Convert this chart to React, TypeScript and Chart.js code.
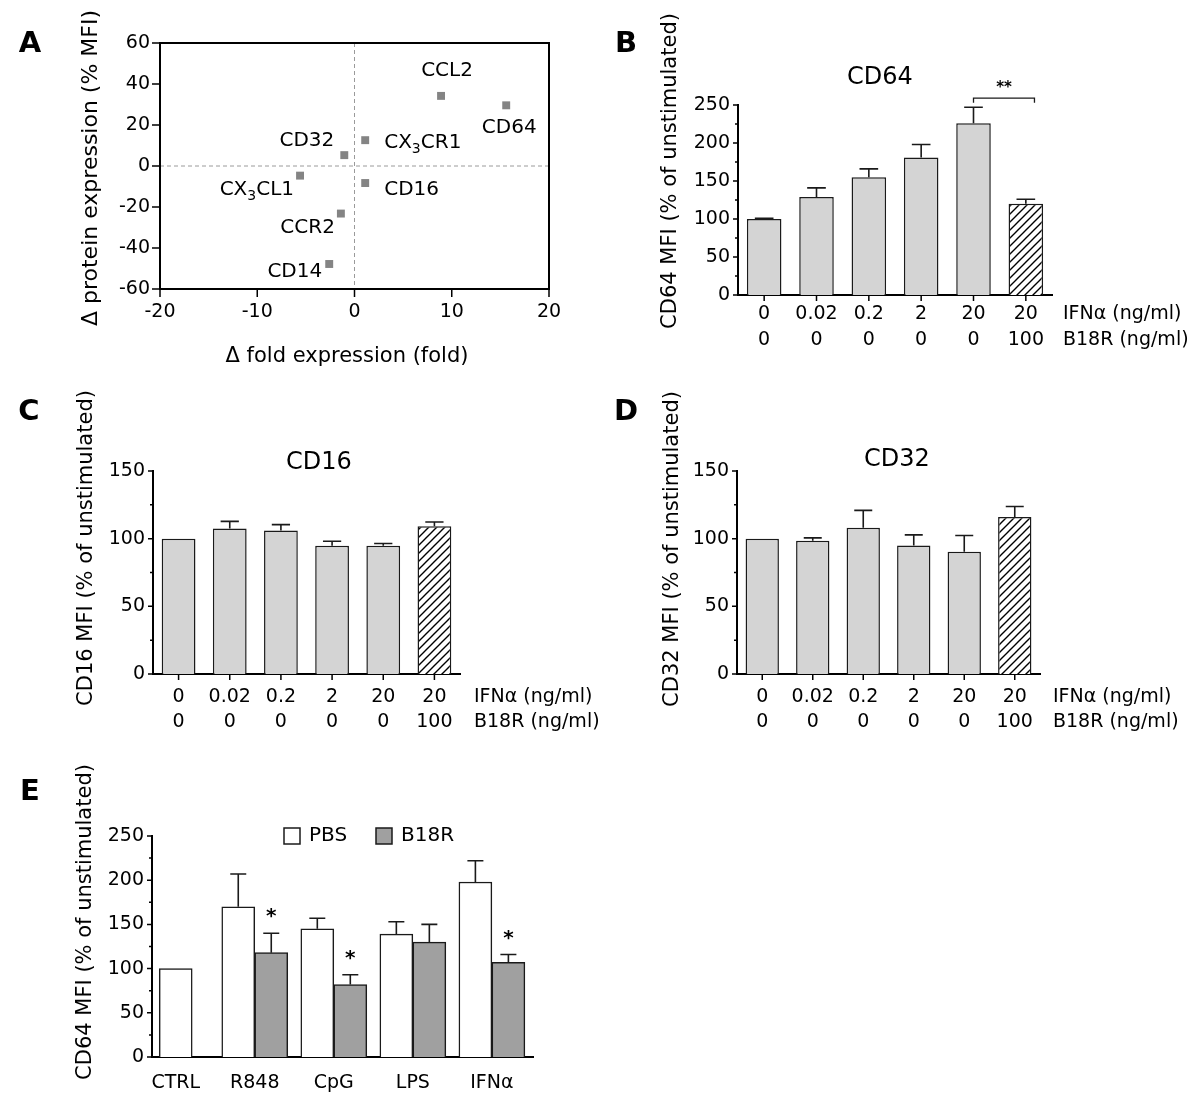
import React, { useEffect, useRef } from 'react';
import { Chart, registerables } from 'chart.js';

Chart.register(...registerables);

const FONT = "'DejaVu Sans', 'Liberation Sans', Arial, sans-serif";

// ---------------- Panel A data ----------------
const A_GENES = ['CCL2', 'CD64', 'CX3CR1', 'CD32', 'CX3CL1', 'CD16', 'CCR2', 'CD14'];
const A_FOLD = [8.9, 15.6, 1.1, -1.05, -5.6, 1.1, -1.4, -2.6];
const A_PROTEIN = [34.2, 29.6, 12.6, 5.3, -4.7, -8.3, -23.2, -47.8];
const A_X_RANGE = [-20, 20];
const A_X_STEP = 10;
const A_Y_RANGE = [-60, 60];
const A_Y_STEP = 20;
const A_X_TITLE = 'Δ fold expression (fold)';
const A_Y_TITLE = 'Δ protein expression (% MFI)';

// ---------------- Panels B–D data ----------------
const IFN_DOSES = ['0', '0.02', '0.2', '2', '20', '20'];
const B18R_DOSES = ['0', '0', '0', '0', '0', '100'];
const ROW_LABELS = ['IFNα (ng/ml)', 'B18R (ng/ml)'];
const HATCHED = [false, false, false, false, false, true];
const CD64_MEAN = [100, 129, 155, 181, 226, 120];
const CD64_SEM = [0.8, 12, 11, 17, 21, 6];
const CD16_MEAN = [100, 107.5, 106, 94.7, 94.7, 109.2];
const CD16_SEM = [0, 5.3, 4.4, 3.4, 1.7, 3.1];
const CD32_MEAN = [100, 98.5, 108.1, 94.9, 90.3, 116.1];
const CD32_SEM = [0, 2.1, 12.8, 7.9, 12, 7.7];
const B_BRACKET = { from: 4, to: 5, top: 259, foot: 253, label: '**', labelAt: 272 };

// ---------------- Panel E data ----------------
const E_STIMULI = ['CTRL', 'R848', 'CpG', 'LPS', 'IFNα'];
const E_SERIES = ['PBS', 'B18R'];
const E_PBS = [100, 170, 145, 139, 198];
const E_PBS_SEM = [0, 37, 12, 14, 24];
const E_B18R: (number | null)[] = [null, 118, 82, 130, 107];
const E_B18R_SEM = [0, 22, 11, 20, 9];
const E_SIGNIF = ['', '*', '*', '', '*'];

// ---------------- layout (page pixels) ----------------
type Box = { left: number; top: number; width: number; height: number };
type Plot = { L: number; T: number; R: number; B: number };

const A_BOX: Box = { left: 0, top: 0, width: 600, height: 380 };
const B_BOX: Box = { left: 600, top: 0, width: 600, height: 380 };
const C_BOX: Box = { left: 0, top: 380, width: 600, height: 370 };
const D_BOX: Box = { left: 600, top: 380, width: 600, height: 370 };
const E_BOX: Box = { left: 0, top: 750, width: 600, height: 354 };

const A_PLOT: Plot = { L: 160, T: 43, R: 549, B: 289 };
const B_PLOT: Plot = { L: 738, T: 105, R: 1052, B: 295 };
const C_PLOT: Plot = { L: 153, T: 471, R: 460, B: 674 };
const D_PLOT: Plot = { L: 737, T: 471, R: 1040, B: 674 };
const E_PLOT: Plot = { L: 152, T: 836, R: 533, B: 1057 };

// label placement around points in panel A: [dx, dy, anchor]
const A_LABEL_PLACE: [number, number, string][] = [
  [6, -25, 'center'], [3, 22, 'center'], [19, 3, 'left'], [-10, -14, 'right'],
  [-6, 14, 'right'], [19, 7, 'left'], [-6, 14, 'right'], [-7, 8, 'right'],
];

const LIGHT = '#d4d4d4';
const MID = '#a0a0a0';
const INK = '#1a1a1a';
const TICK_SIZE = 19;
const Y_W = 60;

const fitW = (w: number) => (s: any) => { s.width = w; s.paddingLeft = 0; s.paddingRight = 0; s.paddingTop = 0; s.paddingBottom = 0; };
const fitH = (h: number) => (s: any) => { s.height = h; s.paddingLeft = 0; s.paddingRight = 0; s.paddingTop = 0; s.paddingBottom = 0; };

function layoutFor(box: Box, plot: Plot, yW: number, xH: number) {
  return {
    padding: {
      left: plot.L - box.left - yW,
      top: plot.T - box.top,
      right: box.left + box.width - plot.R,
      bottom: box.top + box.height - plot.B - xH,
    },
  };
}

function text(ctx: CanvasRenderingContext2D, s: string, x: number, y: number, font: string, align: CanvasTextAlign = 'center', rot = 0) {
  ctx.save();
  ctx.translate(x, y);
  if (rot) ctx.rotate(rot);
  ctx.font = font;
  ctx.fillStyle = '#000';
  ctx.textAlign = align;
  ctx.textBaseline = 'middle';
  ctx.fillText(s, 0, 0);
  ctx.restore();
}

function richParts(name: string) {
  const m = name.match(/^(CX)(3)(.*)$/);
  return m ? [{ t: m[1], sub: false }, { t: m[2], sub: true }, { t: m[3], sub: false }] : [{ t: name, sub: false }];
}

function drawRich(ctx: CanvasRenderingContext2D, name: string, x: number, y: number, size: number, anchor: string) {
  const parts = richParts(name);
  const big = `${size}px ${FONT}`;
  const small = `${Math.round(size * 0.72)}px ${FONT}`;
  ctx.save();
  let w = 0;
  parts.forEach(p => { ctx.font = p.sub ? small : big; w += ctx.measureText(p.t).width; });
  let cx = anchor === 'left' ? x : anchor === 'right' ? x - w : x - w / 2;
  ctx.textAlign = 'left';
  ctx.textBaseline = 'middle';
  ctx.fillStyle = '#000';
  parts.forEach(p => {
    ctx.font = p.sub ? small : big;
    ctx.fillText(p.t, cx, p.sub ? y + size * 0.32 : y);
    cx += ctx.measureText(p.t).width;
  });
  ctx.restore();
}

function drawYTicks(chart: any, majLen: number, minLen: number) {
  const { ctx, chartArea: ca, scales } = chart;
  const y = scales.y;
  const vals: number[] = y.ticks.map((t: any) => t.value);
  ctx.save();
  ctx.strokeStyle = '#000';
  ctx.lineWidth = 1.5;
  ctx.beginPath();
  vals.forEach(v => { const p = y.getPixelForValue(v); ctx.moveTo(ca.left, p); ctx.lineTo(ca.left - majLen, p); });
  if (minLen > 0) {
    for (let i = 0; i < vals.length - 1; i++) {
      const p = y.getPixelForValue((vals[i] + vals[i + 1]) / 2);
      ctx.moveTo(ca.left, p); ctx.lineTo(ca.left - minLen, p);
    }
  }
  ctx.stroke();
  ctx.restore();
}

function drawXTicks(chart: any, len: number) {
  const { ctx, chartArea: ca, scales } = chart;
  const x = scales.x;
  ctx.save();
  ctx.strokeStyle = '#000';
  ctx.lineWidth = 1.5;
  ctx.beginPath();
  x.ticks.forEach((t: any, i: number) => { const p = x.getPixelForTick(i); ctx.moveTo(p, ca.bottom); ctx.lineTo(p, ca.bottom + len); });
  ctx.stroke();
  ctx.restore();
}

// draws the upper error bar of every bar; raw data are either numbers or {x: categoryIndex, y}
function drawErrors(chart: any, dsIndex: number, sems: number[], capHalf: number) {
  const meta = chart.getDatasetMeta(dsIndex);
  const y = chart.scales.y;
  const ctx = chart.ctx;
  const raw = chart.data.datasets[dsIndex].data;
  ctx.save();
  ctx.strokeStyle = INK;
  ctx.lineWidth = 1.6;
  ctx.beginPath();
  meta.data.forEach((bar: any, i: number) => {
    const d = raw[i];
    const isObj = d && typeof d === 'object';
    const v = isObj ? d.y : d;
    const e = sems[isObj ? d.x : i];
    if (v === null || v === undefined || !e) return;
    const top = y.getPixelForValue(v);
    const cap = y.getPixelForValue(v + e);
    ctx.moveTo(bar.x, top); ctx.lineTo(bar.x, cap);
    ctx.moveTo(bar.x - capHalf, cap); ctx.lineTo(bar.x + capHalf, cap);
  });
  ctx.stroke();
  ctx.restore();
}

function makeHatch(): CanvasPattern | string {
  const c = document.createElement('canvas');
  c.width = 8; c.height = 8;
  const g = c.getContext('2d');
  if (!g) return '#fff';
  g.fillStyle = '#fff';
  g.fillRect(0, 0, 8, 8);
  g.strokeStyle = '#000';
  g.lineWidth = 1.4;
  g.beginPath();
  g.moveTo(-1, 9); g.lineTo(9, -1);
  g.moveTo(-3, 3); g.lineTo(3, -3);
  g.moveTo(5, 11); g.lineTo(11, 5);
  g.stroke();
  return g.createPattern(c, 'repeat') || '#fff';
}

const basePlugins = { legend: { display: false }, tooltip: { enabled: false }, title: { display: false } };

// ---------------- Panel A ----------------
function configA() {
  const box = A_BOX;
  const X = (v: number) => v - box.left;
  const Y = (v: number) => v - box.top;
  return {
    type: 'scatter',
    data: {
      datasets: [{
        data: A_FOLD.map((x, i) => ({ x, y: A_PROTEIN[i] })),
        pointStyle: 'rect', pointRadius: 5.6, backgroundColor: '#848484', borderWidth: 0,
      }],
    },
    options: {
      responsive: false, animation: false, events: [],
      layout: layoutFor(box, A_PLOT, Y_W, 40),
      plugins: basePlugins,
      scales: {
        x: {
          type: 'linear', min: A_X_RANGE[0], max: A_X_RANGE[1],
          ticks: { stepSize: A_X_STEP, font: { family: FONT, size: TICK_SIZE }, color: '#000', padding: 12, maxRotation: 0 },
          grid: { display: false, drawTicks: false }, border: { display: false }, afterFit: fitH(40),
        },
        y: {
          type: 'linear', min: A_Y_RANGE[0], max: A_Y_RANGE[1],
          ticks: { stepSize: A_Y_STEP, font: { family: FONT, size: TICK_SIZE }, color: '#000', padding: 10 },
          grid: { display: false, drawTicks: false }, border: { display: false }, afterFit: fitW(Y_W),
        },
      },
    },
    plugins: [{
      id: 'aExtras',
      beforeDatasetsDraw(chart: any) {
        const { ctx, chartArea: ca, scales } = chart;
        const x0 = scales.x.getPixelForValue(0);
        const y0 = scales.y.getPixelForValue(0);
        ctx.save();
        ctx.strokeStyle = '#9a9a9a';
        ctx.lineWidth = 1;
        ctx.setLineDash([4, 3]);
        ctx.beginPath();
        ctx.moveTo(x0, ca.top); ctx.lineTo(x0, ca.bottom);
        ctx.moveTo(ca.left, y0); ctx.lineTo(ca.right, y0);
        ctx.stroke();
        ctx.restore();
      },
      afterDraw(chart: any) {
        const { ctx, chartArea: ca, scales } = chart;
        ctx.save();
        ctx.strokeStyle = '#000';
        ctx.lineWidth = 2;
        ctx.strokeRect(ca.left, ca.top, ca.right - ca.left, ca.bottom - ca.top);
        ctx.lineWidth = 1.5;
        ctx.beginPath();
        scales.y.ticks.forEach((t: any) => { const p = scales.y.getPixelForValue(t.value); ctx.moveTo(ca.left, p); ctx.lineTo(ca.left - 8, p); });
        scales.x.ticks.forEach((t: any) => { const p = scales.x.getPixelForValue(t.value); ctx.moveTo(p, ca.bottom); ctx.lineTo(p, ca.bottom + 8); });
        ctx.stroke();
        ctx.restore();
        const meta = chart.getDatasetMeta(0);
        meta.data.forEach((pt: any, i: number) => {
          const [dx, dy, anchor] = A_LABEL_PLACE[i];
          drawRich(ctx, A_GENES[i], pt.x + dx, pt.y + dy, 20, anchor);
        });
        text(ctx, A_X_TITLE, X(347), Y(357), `21px ${FONT}`);
        text(ctx, A_Y_TITLE, X(91), Y(168), `22px ${FONT}`, 'center', -Math.PI / 2);
        text(ctx, 'A', X(30), Y(44), `bold 29px ${FONT}`);
      },
    }],
  };
}

// ---------------- Panels B–D ----------------
type BarSpec = {
  box: Box; plot: Plot; means: number[]; sems: number[]; yMax: number;
  title: string; titleXY: [number, number]; yTitle: string; yTitleXY: [number, number];
  letter: string; letterXY: [number, number]; rowX: number; rowY: [number, number]; bracket: boolean;
};

function configBar(p: BarSpec) {
  const { box, plot } = p;
  const X = (v: number) => v - box.left;
  const Y = (v: number) => v - box.top;
  const hatch = makeHatch();
  const lineH = p.rowY[1] - p.rowY[0];
  const pad = p.rowY[0] - plot.B - lineH / 2;
  return {
    type: 'bar',
    data: {
      labels: IFN_DOSES.map((d, i) => [d, B18R_DOSES[i]]),
      datasets: [{
        data: p.means,
        backgroundColor: HATCHED.map(h => (h ? hatch : LIGHT)),
        borderColor: INK, borderWidth: 1.5,
        barPercentage: 0.66, categoryPercentage: 1,
      }],
    },
    options: {
      responsive: false, animation: false, events: [],
      layout: layoutFor(box, plot, Y_W, 60),
      plugins: basePlugins,
      scales: {
        x: {
          type: 'category',
          ticks: { font: { family: FONT, size: TICK_SIZE, lineHeight: `${lineH}px` }, color: '#000', padding: pad, autoSkip: false, maxRotation: 0 },
          grid: { display: false, drawTicks: false }, border: { display: true, color: '#000', width: 2 }, afterFit: fitH(60),
        },
        y: {
          type: 'linear', min: 0, max: p.yMax,
          ticks: { stepSize: 50, font: { family: FONT, size: TICK_SIZE }, color: '#000', padding: 8 },
          grid: { display: false, drawTicks: false }, border: { display: true, color: '#000', width: 2 }, afterFit: fitW(Y_W),
        },
      },
    },
    plugins: [{
      id: 'barExtras',
      afterDatasetsDraw(chart: any) {
        const meta = chart.getDatasetMeta(0);
        const capHalf = meta.data[0] ? meta.data[0].width * 0.27 : 9;
        drawErrors(chart, 0, p.sems, capHalf);
      },
      afterDraw(chart: any) {
        const ctx = chart.ctx;
        drawYTicks(chart, 5, 3);
        drawXTicks(chart, 6);
        ROW_LABELS.forEach((r, i) => text(ctx, r, X(p.rowX), Y(p.rowY[i]), `${TICK_SIZE}px ${FONT}`, 'left'));
        text(ctx, p.title, X(p.titleXY[0]), Y(p.titleXY[1]), `24px ${FONT}`);
        text(ctx, p.yTitle, X(p.yTitleXY[0]), Y(p.yTitleXY[1]), `21px ${FONT}`, 'center', -Math.PI / 2);
        text(ctx, p.letter, X(p.letterXY[0]), Y(p.letterXY[1]), `bold 29px ${FONT}`);
        if (p.bracket) {
          const bars = chart.getDatasetMeta(0).data;
          const y = chart.scales.y;
          const x1 = bars[B_BRACKET.from].x;
          const x2 = bars[B_BRACKET.to].x + bars[B_BRACKET.to].width * 0.25;
          const yb = y.getPixelForValue(B_BRACKET.top);
          const yf = y.getPixelForValue(B_BRACKET.foot);
          ctx.save();
          ctx.strokeStyle = INK;
          ctx.lineWidth = 1.3;
          ctx.beginPath();
          ctx.moveTo(x1, yf); ctx.lineTo(x1, yb); ctx.lineTo(x2, yb); ctx.lineTo(x2, yf);
          ctx.stroke();
          ctx.restore();
          text(ctx, B_BRACKET.label, (x1 + x2) / 2, y.getPixelForValue(B_BRACKET.labelAt), `bold 15px ${FONT}`);
        }
      },
    }],
  };
}

const configB = () => configBar({
  box: B_BOX, plot: B_PLOT, means: CD64_MEAN, sems: CD64_SEM, yMax: 250,
  title: 'CD64', titleXY: [880, 78], yTitle: 'CD64 MFI (% of unstimulated)', yTitleXY: [671, 171],
  letter: 'B', letterXY: [626, 44], rowX: 1063, rowY: [314, 340], bracket: true,
});
const configC = () => configBar({
  box: C_BOX, plot: C_PLOT, means: CD16_MEAN, sems: CD16_SEM, yMax: 150,
  title: 'CD16', titleXY: [319, 463], yTitle: 'CD16 MFI (% of unstimulated)', yTitleXY: [87, 548],
  letter: 'C', letterXY: [29, 412], rowX: 474, rowY: [697, 722], bracket: false,
});
const configD = () => configBar({
  box: D_BOX, plot: D_PLOT, means: CD32_MEAN, sems: CD32_SEM, yMax: 150,
  title: 'CD32', titleXY: [897, 460], yTitle: 'CD32 MFI (% of unstimulated)', yTitleXY: [673, 549],
  letter: 'D', letterXY: [626, 412], rowX: 1053, rowY: [697, 722], bracket: false,
});

// ---------------- Panel E ----------------
function configE() {
  const box = E_BOX;
  const X = (v: number) => v - box.left;
  const Y = (v: number) => v - box.top;
  const labelCenter = 1083;
  const pad = labelCenter - E_PLOT.B - (TICK_SIZE * 1.2) / 2;
  const points = (vals: (number | null)[]) =>
    vals.map((y, i) => ({ x: i, y })).filter(d => d.y !== null);
  return {
    type: 'bar',
    data: {
      datasets: [
        {
          label: E_SERIES[0], data: points(E_PBS),
          backgroundColor: '#ffffff', borderColor: INK, borderWidth: 1.5, barThickness: 33, skipNull: true,
        },
        {
          label: E_SERIES[1], data: points(E_B18R),
          backgroundColor: MID, borderColor: INK, borderWidth: 1.5, barThickness: 33, skipNull: true,
        },
      ],
    },
    options: {
      responsive: false, animation: false, events: [],
      layout: layoutFor(box, E_PLOT, Y_W, 40),
      plugins: basePlugins,
      datasets: { bar: { skipNull: true } },
      scales: {
        x: {
          type: 'linear', min: -0.3, max: 4.52, offset: false,
          afterBuildTicks: (s: any) => { s.ticks = E_STIMULI.map((_, i) => ({ value: i })); },
          ticks: {
            font: { family: FONT, size: TICK_SIZE }, color: '#000', padding: pad, autoSkip: false, maxRotation: 0,
            callback: (v: any) => E_STIMULI[Math.round(Number(v))] ?? '',
          },
          grid: { display: false, drawTicks: false }, border: { display: true, color: '#000', width: 2 }, afterFit: fitH(40),
        },
        y: {
          type: 'linear', min: 0, max: 250,
          ticks: { stepSize: 50, font: { family: FONT, size: TICK_SIZE }, color: '#000', padding: 8 },
          grid: { display: false, drawTicks: false }, border: { display: true, color: '#000', width: 2 }, afterFit: fitW(Y_W),
        },
      },
    },
    plugins: [{
      id: 'eExtras',
      afterDatasetsDraw(chart: any) {
        drawErrors(chart, 0, E_PBS_SEM, 8);
        drawErrors(chart, 1, E_B18R_SEM, 8);
      },
      afterDraw(chart: any) {
        const ctx = chart.ctx;
        const y = chart.scales.y;
        drawYTicks(chart, 5, 3);
        const meta = chart.getDatasetMeta(1);
        const raw = chart.data.datasets[1].data;
        meta.data.forEach((bar: any, i: number) => {
          const k = raw[i].x;
          const v = E_B18R[k];
          if (!E_SIGNIF[k] || v === null) return;
          const cap = y.getPixelForValue(v + E_B18R_SEM[k]);
          text(ctx, E_SIGNIF[k], bar.x, cap - 16, `bold 20px ${FONT}`);
        });
        // legend
        const fills = ['#ffffff', MID];
        const boxX = [284, 376];
        ctx.save();
        E_SERIES.forEach((s, i) => {
          ctx.fillStyle = fills[i];
          ctx.fillRect(X(boxX[i]), Y(828), 16, 16);
          ctx.strokeStyle = INK;
          ctx.lineWidth = 1.5;
          ctx.strokeRect(X(boxX[i]), Y(828), 16, 16);
          text(ctx, s, X(boxX[i] + 25), Y(836), `20px ${FONT}`, 'left');
        });
        ctx.restore();
        text(ctx, 'CD64 MFI (% of unstimulated)', X(86), Y(922), `21px ${FONT}`, 'center', -Math.PI / 2);
        text(ctx, 'E', X(30), Y(792), `bold 29px ${FONT}`);
      },
    }],
  };
}

function PanelCanvas({ box, build }: { box: Box; build: () => any }) {
  const ref = useRef<HTMLCanvasElement | null>(null);
  useEffect(() => {
    const cv = ref.current;
    if (!cv) return;
    const chart = new Chart(cv, build());
    return () => chart.destroy();
  }, []);
  return (
    <canvas
      ref={ref}
      width={box.width}
      height={box.height}
      style={{ position: 'absolute', left: box.left, top: box.top, width: box.width, height: box.height }}
    />
  );
}

export default function App() {
  return (
    <div style={{ position: 'absolute', left: 0, top: 0, width: 1200, height: 1104, background: '#ffffff', overflow: 'hidden' }}>
      <PanelCanvas box={A_BOX} build={configA} />
      <PanelCanvas box={B_BOX} build={configB} />
      <PanelCanvas box={C_BOX} build={configC} />
      <PanelCanvas box={D_BOX} build={configD} />
      <PanelCanvas box={E_BOX} build={configE} />
    </div>
  );
}
